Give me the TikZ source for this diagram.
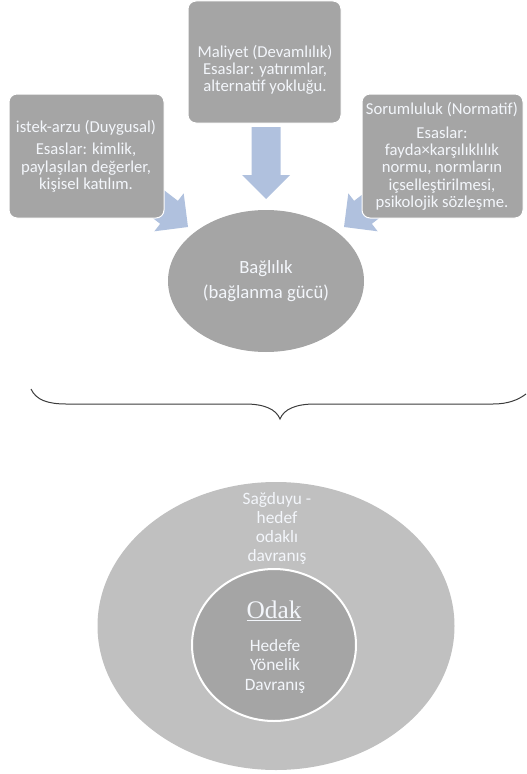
\documentclass[tikz,border=0pt]{standalone}
\usepackage{fontspec}
\setmainfont{Carlito}
\newfontfamily\odakfont{Liberation Serif}
\usetikzlibrary{shapes.geometric}

\definecolor{boxgray}{RGB}{165,165,165}
\definecolor{ringgray}{RGB}{192,192,192}
\definecolor{arrowblue}{RGB}{176,193,222}
\definecolor{softwhite}{RGB}{243,246,251}

\tikzset{every picture/.style={line width=0.75pt}}
\tikzset{
  basebox/.style={draw=white, fill=boxgray, rounded corners=6pt, inner sep=0pt},
  boxtext/.style={text=softwhite, align=center, inner sep=0.75pt, font=\fontsize{12.5}{13}\selectfont},
  pics/blockarrow/.style={code={
    \fill[arrowblue] (0,0) -- (-24,-24) -- (-24,-14.5) -- (-72,-14.5) -- (-72,14.5) -- (-24,14.5) -- (-24,24) -- cycle;
  }}
}

\begin{document}
\begin{tikzpicture}[x=0.75pt,y=0.75pt,yscale=-1,xscale=1]
\useasboundingbox (0,0) rectangle (526,774);

%Block Arrows (drawn first, the boxes and the ellipse lie on top)
\coordinate (tipL) at (188,227);
\coordinate (tipM) at (266,199);
\coordinate (tipR) at (344,227);
\pic[rotate=-37.7] at (tipL) {blockarrow};
\pic[rotate=-90] at (tipM) {blockarrow};
\pic[rotate=-142.3] at (tipR) {blockarrow};

%Rounded Rect
\node[basebox, minimum width=114.75pt, minimum height=91.5pt] (cost) at (264.5,62) {};
%Rounded Rect
\node[basebox, minimum width=116.25pt, minimum height=93pt] (wish) at (86.5,156) {};
%Rounded Rect
\node[basebox, minimum width=120.75pt, minimum height=93pt] (duty) at (442.5,156) {};

% Text Node
\node[boxtext] (costtxt) at (265,70) {Maliyet (Devamlılık)\\Esaslar: yatırımlar,\\alternatif yokluğu.};
% Text Node
\node[boxtext] (wishtxt) at (86,156) {istek-arzu (Duygusal)\\[4pt]Esaslar: kimlik,\\paylaşılan değerler,\\kişisel katılım.};
% Text Node
\node[boxtext] (dutytxt) at (442,156) {Sorumluluk (Normatif)\\[5pt]Esaslar:\\fayda×karşılıklılık\\normu, normların\\içselleştirilmesi,\\psikolojik sözleşme.};

%Shape: Ellipse
\node[ellipse, fill=boxgray, minimum width=147pt, minimum height=106.5pt, inner sep=0pt,
  text=softwhite, align=center, font=\fontsize{14}{19}\selectfont] (bond) at (266,281) {Bağlılık\\(bağlanma gücü)};

%Curve Lines (brace)
\draw[color={rgb, 255:red, 60; green, 60; blue, 60}] (31,389) .. controls (36,400) and (48,404) .. (66,404) -- (245,404)
  .. controls (264,404) and (276,409) .. (280,419) .. controls (284,409) and (296,404) .. (315,404) -- (493,404)
  .. controls (508,404) and (518,400) .. (526,394);

%Shape: Ellipse
\node[ellipse, fill=ringgray, minimum width=267.75pt, minimum height=216pt, inner sep=0pt] (sense) at (276,626) {};
%Shape: Circle
\node[ellipse, draw=white, line width=1.5pt, fill=boxgray, minimum width=123pt, minimum height=114pt, inner sep=0pt] (focus) at (274,645) {};

% Text Node
\node[text=softwhite, align=center, inner sep=0.75pt, font=\fontsize{13}{14.25}\selectfont] (sensetxt) at (277,528) {Sağduyu -\\hedef\\odaklı\\davranış};
% Text Node
\node[text=softwhite, inner sep=0.75pt, font=\odakfont\fontsize{19}{20}\selectfont] (odak) at (274,611) {\underline{Odak}};
% Text Node
\node[text=softwhite, align=center, inner sep=0.75pt, font=\fontsize{13}{14.6}\selectfont] (focustxt) at (275,666) {Hedefe\\Yönelik\\Davranış};
\end{tikzpicture}
\end{document}
